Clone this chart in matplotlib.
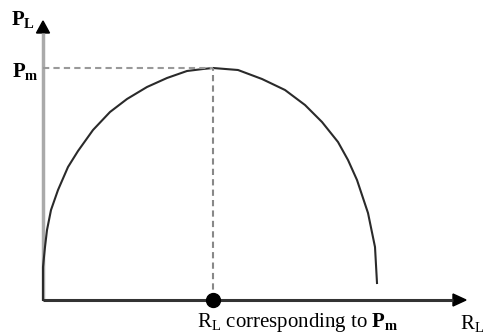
import matplotlib.pyplot as plt

# power delivered to the load vs load resistance (arbitrary units)
r_load = [0, 0, 2, 4, 8, 15, 25, 35, 50, 67, 84, 104, 124, 144, 160, 170,
          195, 219, 242, 262, 279, 295, 305, 314, 325, 332, 334]
p_load = [0, 33, 53, 70, 90, 110, 133, 149, 170, 188, 201, 213, 222, 229, 231, 232,
          230, 221, 210, 195, 178, 158, 140, 120, 87, 53, 17]
r_peak = 170
p_peak = 232

plt.rcParams['mathtext.fontset'] = 'custom'
plt.rcParams['mathtext.rm'] = 'Liberation Serif'
plt.rcParams['mathtext.it'] = 'Liberation Serif'
plt.rcParams['mathtext.bf'] = 'Liberation Serif:bold'

fig = plt.figure(figsize=(4.86, 3.34), dpi=100)
ax = fig.add_axes([0, 0, 1, 1])
ax.set_xlim(-43, 443)
ax.set_ylim(-34, 300)
ax.axis('off')

# axes with arrow heads
ax.plot([0, 0], [0, 267], color='#aaaaaa', lw=2.5, solid_capstyle='butt')
ax.plot([0, 410], [0, 0], color='#333333', lw=2.2, solid_capstyle='butt')
ax.fill([-6.5, 6.5, 0], [267, 267, 279], color='black')
ax.fill([410, 410, 423], [-6, 6, 0], color='black')

# the curve
ax.plot(r_load, p_load, color='#2a2a2a', lw=1.5, solid_joinstyle='round')

# dashed guides to the maximum
ax.plot([0, r_peak], [p_peak, p_peak], color='#999999', lw=1.5, ls=(0, (3, 2)))
ax.plot([r_peak, r_peak], [0, p_peak], color='#888888', lw=1.5, ls=(0, (3, 2)))
ax.plot([r_peak], [0], 'o', color='black', ms=10)

ax.text(-19.5, 280, r'$\mathbf{P_L}$', fontsize=15, ha='center', va='center')
ax.text(-17.5, 228, r'$\mathbf{P_m}$', fontsize=15, ha='center', va='center')
ax.text(255, -23, r'R$_\mathrm{L}$ corresponding to $\mathbf{P_m}$',
        fontsize=15, ha='center', va='center', family='Liberation Serif')
ax.text(417, -23, r'R$_\mathrm{L}$', fontsize=15, ha='left', va='center',
        family='Liberation Serif')

fig.savefig('out.png', dpi=100)
